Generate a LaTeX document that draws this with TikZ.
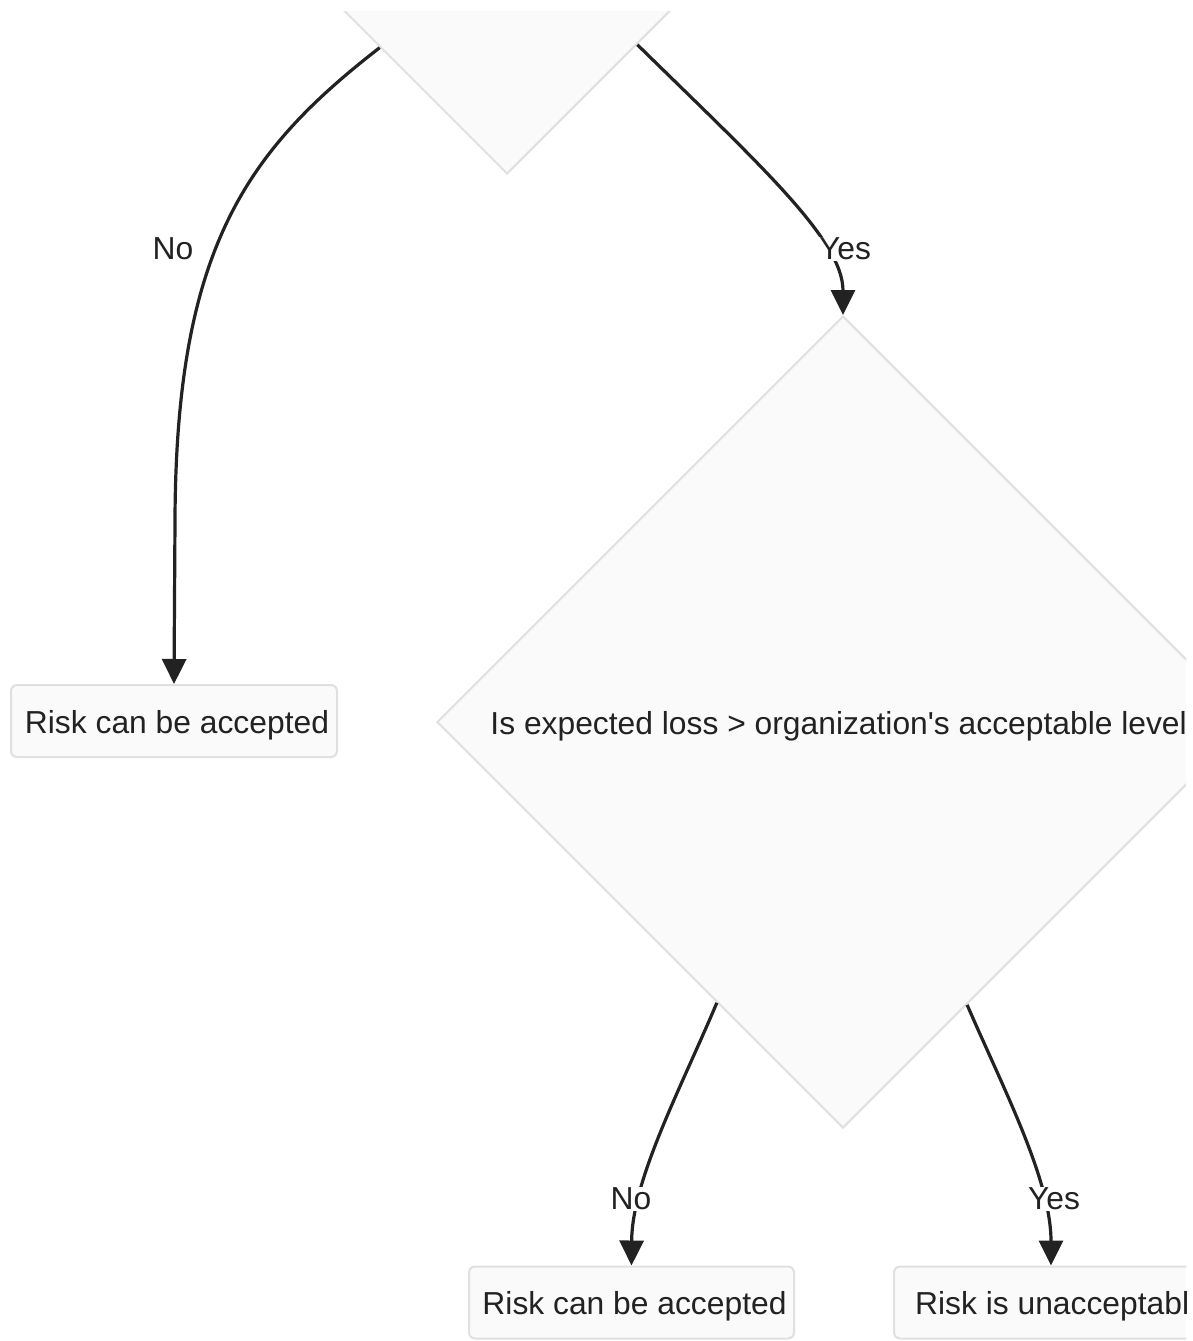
\documentclass[tikz,border=0pt]{standalone}
\usepackage{fontspec}
\setmainfont{Liberation Sans}
\usetikzlibrary{shapes.geometric,arrows.meta,calc}
\definecolor{nodefill}{HTML}{FAFAFA}
\definecolor{nodeline}{HTML}{E0E0E0}
\definecolor{edgecol}{HTML}{222222}
\definecolor{txt}{HTML}{222222}
\newcommand{\lowr}[1]{\raisebox{-4pt}[\height][\depth]{#1}}
\begin{document}
\begin{tikzpicture}[x=1pt,y=-1pt,
  font=\fontsize{31.8}{38}\selectfont,
  decision/.style={diamond,aspect=1,draw=nodeline,line width=2pt,fill=nodefill,inner sep=0pt,minimum width=#1,minimum height=#1,text=txt},
  outcome/.style={rectangle,rounded corners=6pt,draw=nodeline,line width=2pt,fill=nodefill,minimum width=326pt,minimum height=72pt,inner sep=0pt,text=txt},
  flow/.style={draw=edgecol,line width=3.2pt,-{Triangle[width=24pt,length=25pt]}},
  elabel/.style={fill=white,inner sep=1pt,text=txt}]
\useasboundingbox (0,0) rectangle (1193,1341);
\begin{scope}
\clip (0,11) rectangle (1186,1341);
\node[decision=800pt] (d1) at (507,-226) {};
\node[decision=812pt] (d2) at (843,722) {\hspace*{9pt}\lowr{Is expected loss > organization\textquotesingle s acceptable level?}};
\node[outcome] (b1) at (174,721) {\hspace*{6pt}\lowr{Risk can be accepted}};
\node[outcome,minimum width=325pt] (b2) at (631.5,1302.5) {\hspace*{6pt}\lowr{Risk can be accepted}};
\node[outcome,minimum width=326pt] (b3) at (1057,1302.5) {\hspace*{8pt}\lowr{Risk is unacceptable}};
\coordinate (s1) at ($(d1.west)!0.6825!(d1.south)$);
\coordinate (s2) at ($(d1.south)!0.325!(d1.east)$);
\coordinate (s3) at ($(d2.west)!0.69!(d2.south)$);
\coordinate (s4) at ($(d2.south)!0.305!(d2.east)$);
\draw[flow] (s1) .. controls (245,152) and (176,250) .. (175,520) -- (b1.north);
\draw[flow] (s2) .. controls (760,165) and (843,240) .. (d2.north);
\draw[flow] (s3) .. controls (680,1090) and (632,1180) .. (b2.north);
\draw[flow] (s4) .. controls (1004,1090) and (1051,1180) .. ([xshift=-6pt]b3.north);
\node[elabel] (l1) at (173,249) {No};
\node[elabel] (l2) at (845,249) {Yes};
\node[elabel] (l3) at (631,1199) {No};
\node[elabel] (l4) at (1054,1199) {Yes};
\end{scope}
\end{tikzpicture}
\end{document}
